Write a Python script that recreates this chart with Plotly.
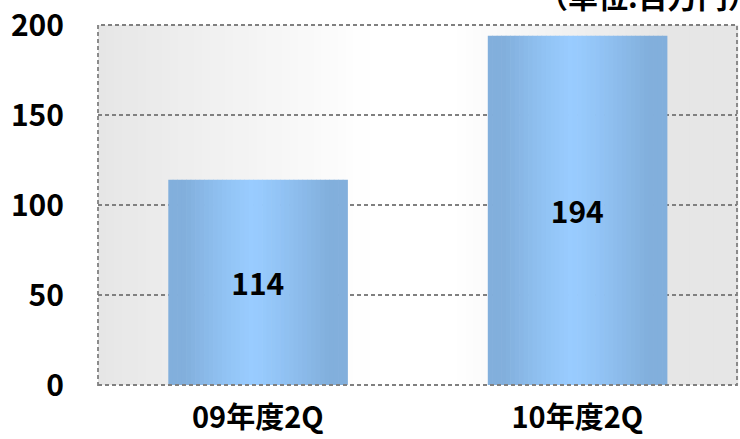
import plotly.graph_objects as go
import numpy as np

categories = ["09年度2Q", "10年度2Q"]
values = [114, 194]
value_labels = ["114", "194"]
y_ticks = [0, 50, 100, 150, 200]
unit_label = "（単位:百万円）"

FONT = "Noto Sans CJK JP"
W, H = 740, 439
ML, MR, MT, MB = 98, 3, 25, 54

BAR_W = 0.56
N_SLICES = 40
dark = np.array([0x82, 0xAF, 0xDC])
light = np.array([0x99, 0xCC, 0xFF])

def bar_color(t):
    c = 0.47
    d = abs(t - c) / (c if t < c else 1 - c)
    k = min(1.0, max(0.0, d / 0.8))
    k = k ** 1.2
    col = light * (1 - k) + dark * k
    return "rgb(%d,%d,%d)" % tuple(col.round().astype(int))

fig = go.Figure()

sw = BAR_W / N_SLICES
for i in range(N_SLICES):
    t = (i + 0.5) / N_SLICES
    fig.add_trace(go.Bar(
        x=categories, y=values,
        width=[sw * 1.15] * len(values),
        offset=[-BAR_W / 2 + i * sw] * len(values),
        marker=dict(color=bar_color(t), line=dict(width=0)),
        hoverinfo="skip", showlegend=False,
    ))

fig.add_trace(go.Bar(
    x=categories, y=values, width=[BAR_W] * len(values),
    marker=dict(color="rgba(0,0,0,0)", line=dict(width=0)),
    text=value_labels, textposition="inside", insidetextanchor="middle",
    textfont=dict(family=FONT, size=30, color="black", weight="bold"),
    textangle=0, showlegend=False, hoverinfo="skip",
))

shapes = []
grey = np.array([0xE6, 0xE6, 0xE6])
white = np.array([0xFF, 0xFF, 0xFF])
NB = 80
for i in range(NB):
    x0 = i / NB
    x1 = (i + 1) / NB
    t = (x0 + x1) / 2
    if t < 0.43:
        k = 1 - t / 0.43
    elif t < 0.55:
        k = 0
    else:
        k = min(1.0, (t - 0.55) / 0.33)
    col = white * (1 - k) + grey * k
    shapes.append(dict(type="rect", xref="paper", yref="paper", x0=x0, x1=x1 + 0.002,
                       y0=0, y1=1, layer="below", line=dict(width=0),
                       fillcolor="rgb(%d,%d,%d)" % tuple(col.round().astype(int))))
shapes.append(dict(type="rect", xref="paper", yref="paper", x0=0, x1=1, y0=0, y1=1,
                   layer="above", line=dict(color="#808080", width=1.8, dash="4px,3px")))

fig.update_layout(
    template="none",
    width=W, height=H,
    margin=dict(l=ML, r=MR, t=MT, b=MB, autoexpand=False),
    paper_bgcolor="white", plot_bgcolor="rgba(0,0,0,0)",
    barmode="overlay", bargap=0.44,
    shapes=shapes,
    showlegend=False,
    xaxis=dict(
        automargin=False,
        showgrid=False, zeroline=False, showline=False, ticks="",
        tickfont=dict(family=FONT, size=29, color="black", weight="bold"),
        ticklabelstandoff=13,
    ),
    yaxis=dict(
        automargin=False,
        range=[0, 200], tickvals=y_ticks, ticktext=[str(v) for v in y_ticks],
        showgrid=True, gridcolor="#808080", gridwidth=1.8, griddash="4px,3px",
        zeroline=False, showline=False, ticks="",
        tickfont=dict(family=FONT, size=30, color="black", weight="bold"),
        ticklabelstandoff=33,
    ),
    annotations=[dict(
        text=unit_label, xref="paper", yref="paper",
        x=(536 - ML) / (W - ML - MR), y=(H - MB - 19) / (H - MB - MT),
        xanchor="left", yanchor="bottom", showarrow=False,
        font=dict(family=FONT, size=30, color="black", weight="bold"),
    )],
)

fig.write_html("out.html")
